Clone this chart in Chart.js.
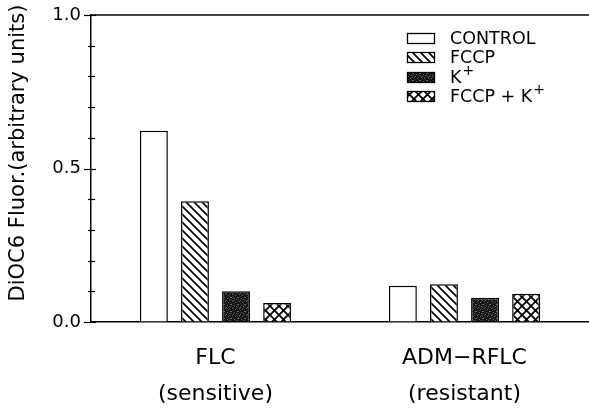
<!DOCTYPE html>
<html>
<head>
<meta charset="utf-8">
<script src="https://cdn.jsdelivr.net/npm/chart.js@4/dist/chart.umd.min.js"></script>
<style>
  html, body { margin: 0; padding: 0; background: #fff; }
  #wrap { width: 589px; height: 408px; }
</style>
</head>
<body>
<div id="wrap"><canvas id="c" width="589" height="408"></canvas></div>
<script>
// Cell lines (two-line labels) and treatments
const categories = [["FLC", "(sensitive)"], ["ADM\u2212RFLC", "(resistant)"]];
const seriesNames = ["CONTROL", "FCCP", "K+", "FCCP + K+"];

// DiOC6 fluorescence per treatment (arbitrary units)
const control       = [0.623, 0.118];
const fccp          = [0.393, 0.123];
const potassium     = [0.100, 0.079];
const fccpPotassium = [0.062, 0.092];

// Labelled y ticks; minor ticks every 0.1
const yTickLabels = [0.0, 0.5, 1.0];
const yMinorStep = 0.1;

const FONT = "'DejaVu Sans', sans-serif";

// ---- fill patterns ----
function makeTile(w, h, paint) {
  const c = document.createElement('canvas');
  c.width = w; c.height = h;
  const g = c.getContext('2d');
  paint(g, w, h);
  return document.createElement('canvas').getContext('2d').createPattern(c, 'repeat');
}
const plainFill = '#ffffff';
const hatchFill = makeTile(8, 8, (g, w, h) => {
  g.fillStyle = '#fff'; g.fillRect(0, 0, w, h);
  g.strokeStyle = '#000'; g.lineWidth = 1.6;
  g.beginPath();
  g.moveTo(-2, -2); g.lineTo(w + 2, h + 2);
  g.moveTo(-2, h - 2); g.lineTo(2, h + 2);
  g.moveTo(w - 2, -2); g.lineTo(w + 2, 2);
  g.stroke();
});
const stippleFill = makeTile(7, 7, (g, w, h) => {
  g.fillStyle = '#151515'; g.fillRect(0, 0, w, h);
  g.fillStyle = '#6a6a6a';
  [[1,0],[4,1],[0,3],[3,4],[6,3],[2,6],[5,5]].forEach(([x, y]) => g.fillRect(x, y, 1, 1));
  g.fillStyle = '#3a3a3a';
  [[2,2],[5,0],[0,5],[6,6]].forEach(([x, y]) => g.fillRect(x, y, 1, 1));
});
const crossFill = makeTile(9, 9, (g, w, h) => {
  g.fillStyle = '#fff'; g.fillRect(0, 0, w, h);
  g.strokeStyle = '#000'; g.lineWidth = 1.8;
  g.beginPath();
  g.moveTo(-1, -1); g.lineTo(w + 1, h + 1);
  g.moveTo(-1, h + 1); g.lineTo(w + 1, -1);
  g.stroke();
});
const fills = [plainFill, hatchFill, stippleFill, crossFill];

// Text with a raised "+" for K+
function drawRich(ctx, text, x, y, size) {
  ctx.textBaseline = 'middle';
  ctx.textAlign = 'left';
  const parts = text.split(/(K\+)/).filter(s => s.length);
  let cx = x;
  parts.forEach(p => {
    if (p === 'K+') {
      ctx.font = size + 'px ' + FONT;
      ctx.fillText('K', cx, y);
      cx += ctx.measureText('K').width + 1;
      ctx.font = Math.round(size * 0.8) + 'px ' + FONT;
      ctx.fillText('+', cx, y - size * 0.42);
      cx += ctx.measureText('+').width;
    } else {
      ctx.font = size + 'px ' + FONT;
      ctx.fillText(p, cx, y);
      cx += ctx.measureText(p).width;
    }
  });
}

const decorations = {
  id: 'decorations',
  afterDraw(chart) {
    const ctx = chart.ctx;
    const area = chart.chartArea;
    const y = chart.scales.y;
    ctx.save();
    ctx.strokeStyle = '#000';
    ctx.fillStyle = '#000';

    // top frame line
    ctx.lineWidth = 1.5;
    ctx.beginPath();
    ctx.moveTo(area.left, area.top);
    ctx.lineTo(area.right, area.top);
    ctx.stroke();

    // y-axis tick marks crossing the axis
    ctx.lineWidth = 1.2;
    const nSteps = Math.round((y.max - y.min) / yMinorStep);
    for (let i = 0; i <= nSteps; i++) {
      const v = y.min + i * yMinorStep;
      const major = yTickLabels.some(t => Math.abs(t - v) < 1e-9);
      const py = Math.round(y.getPixelForValue(v)) + 0.5;
      ctx.beginPath();
      if (major) { ctx.moveTo(area.left - 7, py); ctx.lineTo(area.left + 5, py); }
      else { ctx.moveTo(area.left - 3, py); ctx.lineTo(area.left + 4, py); }
      ctx.stroke();
    }

    // y-axis title
    ctx.save();
    ctx.translate(19, 153);
    ctx.rotate(-Math.PI / 2);
    ctx.font = '21px ' + FONT;
    ctx.textAlign = 'center';
    ctx.textBaseline = 'middle';
    ctx.fillText('DiOC6 Fluor.(arbitrary units)', 0, 0);
    ctx.restore();

    // legend
    const lx = 407, bw = 28, bh = 11;
    const rows = [33, 52, 72, 91];
    seriesNames.forEach((name, i) => {
      const ty = rows[i];
      ctx.fillStyle = fills[i];
      ctx.fillRect(lx, ty, bw, bh);
      ctx.lineWidth = 1.3;
      ctx.strokeStyle = '#000';
      ctx.strokeRect(lx + 0.5, ty + 0.5, bw - 1, bh - 1);
      ctx.fillStyle = '#000';
      drawRich(ctx, name, 450, ty + bh / 2 + 1, 17.5);
    });
    ctx.restore();
  }
};

const seriesValues = [control, fccp, potassium, fccpPotassium];

new Chart(document.getElementById('c'), {
  type: 'bar',
  data: {
    labels: categories,
    datasets: seriesNames.map((name, i) => ({
      label: name,
      data: seriesValues[i],
      backgroundColor: fills[i],
      borderColor: '#000',
      borderWidth: 1.5,
      categoryPercentage: 0.66,
      barPercentage: 0.68
    }))
  },
  options: {
    responsive: false,
    animation: false,
    devicePixelRatio: 1,
    layout: { padding: { top: 15, right: 0, left: 0, bottom: 0 } },
    plugins: { legend: { display: false }, tooltip: { enabled: false } },
    scales: {
      x: {
        grid: { display: true, drawOnChartArea: false, drawTicks: false },
        border: { display: true, color: '#000', width: 1.5 },
        ticks: {
          color: '#000',
          font: { family: FONT, size: 22, lineHeight: 1.6 },
          padding: 19,
          maxRotation: 0
        },
        afterFit(scale) { scale.height = 86; scale.paddingLeft = 0; scale.paddingRight = 0; }
      },
      y: {
        min: 0,
        max: 1,
        grid: { display: true, drawOnChartArea: false, drawTicks: false },
        border: { display: true, color: '#000', width: 1.5 },
        ticks: {
          stepSize: yMinorStep,
          color: '#000',
          padding: 10,
          font: { family: FONT, size: 18 },
          callback(v) {
            const hit = yTickLabels.find(t => Math.abs(t - v) < 1e-9);
            return hit === undefined ? '' : hit.toFixed(1);
          }
        },
        afterFit(scale) { scale.width = 91; scale.paddingTop = 0; scale.paddingBottom = 0; }
      }
    }
  },
  plugins: [decorations]
});
</script>
</body>
</html>
